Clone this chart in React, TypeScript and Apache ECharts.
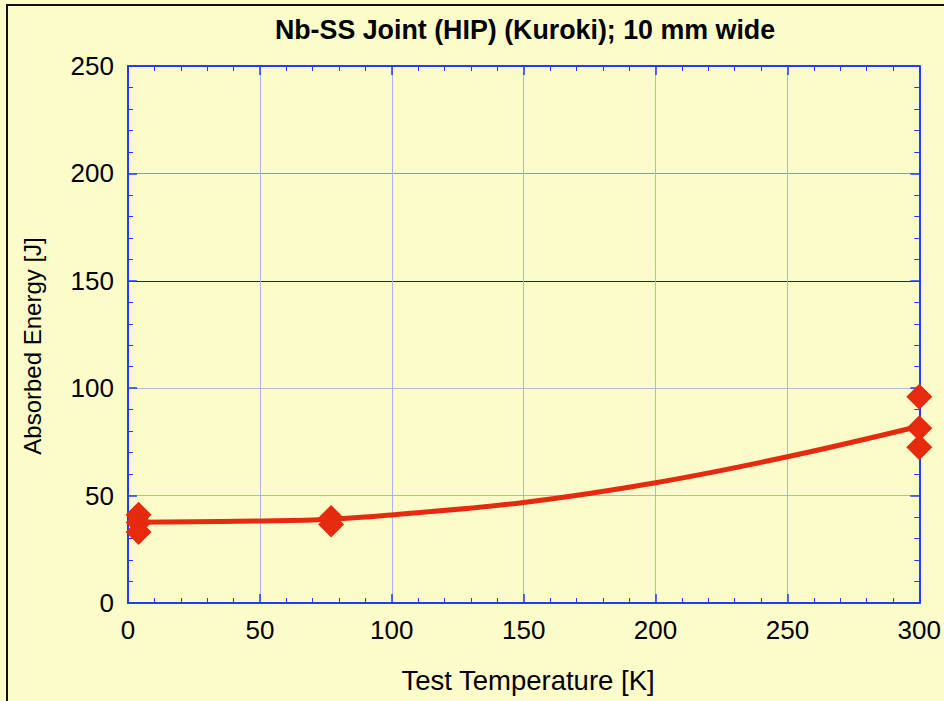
import { useEffect, useRef } from "react";
import * as echarts from "echarts";

// Fitted trend of absorbed energy vs. test temperature
const curveTemps = [4, 50, 77, 100, 150, 200, 250, 300];
const curveEnergy = [37.6, 38.2, 39.0, 41.0, 46.8, 56.0, 68.1, 82.3];

// Individual Charpy results
const testTemps = [4, 4, 4, 77, 77, 300, 300, 300];
const testEnergy = [41.1, 37.5, 33.0, 39.6, 36.5, 96.0, 81.3, 72.5];

// Horizontal grid line colours, one per tick from 0 to 250
const hGridColors = ["#1f3cff", "#a8b4f0", "#b4bad2", "#1c2470", "#8494e4", "#1f3cff"];

const AXIS_BLUE = "#1f3cff";
const MARK_RED = "#e62a0e";
const FONT = "'Liberation Sans', Arial, sans-serif";

export default function App() {
  const ref = useRef<HTMLDivElement>(null);

  useEffect(() => {
    if (!ref.current) return;
    const chart = echarts.init(ref.current, null, { renderer: "svg" });

    const tickCommon = {
      axisLine: { show: true, onZero: false, lineStyle: { color: AXIS_BLUE, width: 2 } },
      axisTick: { show: true, inside: true, length: 9, lineStyle: { color: AXIS_BLUE, width: 1.5 } },
      minorTick: { show: true, splitNumber: 5, length: 5, lineStyle: { color: AXIS_BLUE, width: 1 } },
    };

    chart.setOption({
      animation: false,
      backgroundColor: "#fcfccb",
      grid: { left: 128, right: 24, top: 66, bottom: 98, containLabel: false },
      graphic: [
        {
          type: "rect",
          shape: { x: 7, y: 5, width: 1200, height: 1000 },
          style: { fill: "none", stroke: "#111", lineWidth: 2 },
          silent: true,
        },
        {
          type: "text",
          x: 525,
          y: 30,
          style: {
            text: "Nb-SS Joint (HIP) (Kuroki); 10 mm wide",
            textAlign: "center",
            textVerticalAlign: "middle",
            font: `bold 26.8px ${FONT}`,
            fill: "#000",
          },
        },
        {
          type: "text",
          x: 528,
          y: 680,
          style: {
            text: "Test Temperature [K]",
            textAlign: "center",
            textVerticalAlign: "middle",
            font: `27.5px ${FONT}`,
            fill: "#000",
          },
        },
        {
          type: "text",
          x: 32,
          y: 346,
          rotation: Math.PI / 2,
          style: {
            text: "Absorbed Energy [J]",
            textAlign: "center",
            textVerticalAlign: "middle",
            font: `24px ${FONT}`,
            fill: "#000",
          },
        },
      ],
      xAxis: [
        {
          type: "value",
          min: 0,
          max: 300,
          interval: 50,
          position: "bottom",
          axisLabel: { fontSize: 26, fontFamily: FONT, color: "#000", margin: 14 },
          splitLine: { show: true, lineStyle: { color: "#a8b4f4", width: 1 } },
          ...tickCommon,
        },
        {
          type: "value",
          min: 0,
          max: 300,
          interval: 50,
          position: "top",
          axisLabel: { show: false },
          splitLine: { show: false },
          ...tickCommon,
        },
      ],
      yAxis: [
        {
          type: "value",
          min: 0,
          max: 250,
          interval: 50,
          position: "left",
          axisLabel: { fontSize: 26, fontFamily: FONT, color: "#000", margin: 14 },
          splitLine: { show: true, lineStyle: { color: hGridColors, width: 1.2 } },
          ...tickCommon,
        },
        {
          type: "value",
          min: 0,
          max: 250,
          interval: 50,
          position: "right",
          axisLabel: { show: false },
          splitLine: { show: false },
          ...tickCommon,
        },
      ],
      series: [
        {
          type: "line",
          data: curveTemps.map((t, i) => [t, curveEnergy[i]]),
          smooth: 0.4,
          showSymbol: false,
          symbol: "none",
          lineStyle: { color: MARK_RED, width: 5 },
          z: 3,
        },
        {
          type: "scatter",
          data: testTemps.map((t, i) => [t, testEnergy[i]]),
          symbol: "diamond",
          symbolSize: [26, 26],
          itemStyle: { color: MARK_RED, opacity: 1 },
          z: 4,
        },
      ],
    });

    return () => chart.dispose();
  }, []);

  return (
    <div
      ref={ref}
      style={{ position: "absolute", left: 0, top: 0, width: 944, height: 701 }}
    />
  );
}
